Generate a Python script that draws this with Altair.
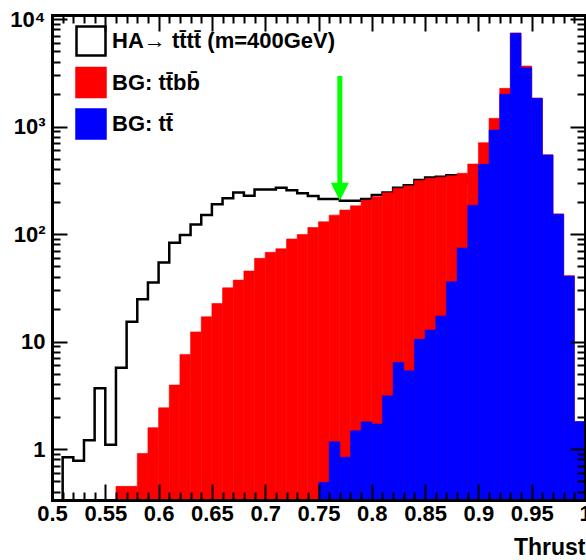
import altair as alt
import pandas as pd

# ---------------- data ----------------
bin_width = 0.01
bin_lo = [0.50, 0.51, 0.52, 0.53, 0.54, 0.55, 0.56, 0.57, 0.58, 0.59,
          0.60, 0.61, 0.62, 0.63, 0.64, 0.65, 0.66, 0.67, 0.68, 0.69,
          0.70, 0.71, 0.72, 0.73, 0.74, 0.75, 0.76, 0.77, 0.78, 0.79,
          0.80, 0.81, 0.82, 0.83, 0.84, 0.85, 0.86, 0.87, 0.88, 0.89,
          0.90, 0.91, 0.92, 0.93, 0.94, 0.95, 0.96, 0.97, 0.98, 0.99]

# signal HA -> tttt (m=400GeV)
signal = [0, 0.84, 0.78, 1.21, 3.67, 1.1, 5.7, 15.3, 24.8, 35.5,
          54.5, 83, 98, 123, 150, 189, 215, 244, 227, 260,
          260, 270, 255, 239, 226, 212, 212, 204, 204, 212,
          231, 244, 270, 285, 318, 335, 342, 352, 340, 300,
          240, 170, 110, 60, 28, 12, 5, 2, 0.9, 0.4]

# background tt
tt = [0, 0, 0, 0, 0, 0, 0, 0, 0, 0,
      0, 0, 0, 0, 0, 0, 0, 0, 0, 0,
      0, 0, 0, 0, 0, 0.49, 1.17, 0.84, 1.48, 1.79,
      1.71, 3.13, 6.4, 5.35, 10.5, 12.8, 17.3, 36, 74, 185,
      445, 928, 1995, 7360, 3524, 1829, 543, 153, 40.6, 1.8]

# background ttbb (stacked on top of tt)
ttbb = [0, 0, 0, 0, 0, 0, 0.45, 0.45, 0.91, 1.58,
        2.42, 3.94, 7.6, 12.3, 17, 22.6, 31.6, 37.3, 45.3, 59.4,
        67.6, 73, 90, 99, 115, 129.5, 148.8, 166.2, 181.5, 205.2,
        220.3, 238.9, 259.6, 275.6, 304.5, 317.2, 320.7, 312, 293, 263,
        262, 264, 270, 60, 131, 11, 3, 1, 0.4, 0]

SIG = "HA\u2192 tt\u0304tt\u0304 (m=400GeV)"
TTBB = "BG: tt\u0304bb\u0304"
TT = "BG: tt\u0304"
series_names = [SIG, TTBB, TT]
fill_colors = ["white", "#ff0000", "#0000ff"]
stroke_colors = ["black", "#ff0000", "#0000ff"]

arrow_x = [0.77]
arrow_top = [2950]
arrow_tip = [204]

x_major = [0.5, 0.55, 0.6, 0.65, 0.7, 0.75, 0.8, 0.85, 0.9, 0.95, 1.0]
x_minor = [v for v in bin_lo[1:] if v not in x_major]
y_major = [1, 10, 100, 1000, 10000]
y_minor = [m * d for d in [0.1, 1, 10, 100, 1000] for m in range(2, 10)]
y_minor = [round(v, 3) for v in y_minor if v > 0.336]

# ---------------- tables ----------------
bins = pd.DataFrame({"lo": bin_lo, "sig": signal, "tt": tt, "ttbb": ttbb})
bins["hi"] = bins["lo"] + bin_width
bins["total"] = bins["tt"] + bins["ttbb"]
red_df = bins[bins["total"] > 0].assign(series=TTBB, val=lambda d: d["total"])
blue_df = bins[bins["tt"] > 0].assign(series=TT, val=lambda d: d["tt"])

line_vals = [v if v > 0 else 0.01 for v in signal]
line_df = pd.DataFrame({"edge": bin_lo + [1.0],
                        "val": line_vals + [line_vals[-1]],
                        "series": SIG})
arrow_df = pd.DataFrame({"x": arrow_x, "top": arrow_top, "tip": arrow_tip})

# ---------------- chart ----------------
W, H = 533, 485
FONT = "Liberation Sans"
xscale = alt.Scale(domain=[0.5, 1.0], nice=False, zero=False)
yscale = alt.Scale(type="log", domain=[0.336, 10900], nice=False)
fill_scale = alt.Scale(domain=series_names, range=fill_colors)
stroke_scale = alt.Scale(domain=series_names, range=stroke_colors)

legend = alt.Legend(title=None, orient="none", legendX=23, legendY=10,
                    symbolType="square", symbolSize=841, symbolStrokeWidth=2.5,
                    labelFont=FONT, labelFontSize=22, labelFontWeight="bold",
                    labelColor="black", rowPadding=1.5, labelOffset=5,
                    padding=0, labelLimit=500, symbolOpacity=1)


def tick_axis(orient, values, size, offset, domain=False):
    return alt.Axis(orient=orient, values=values, tickSize=size, offset=offset,
                    labels=False, domain=domain, domainColor="black",
                    domainWidth=3, domainCap="square", grid=False, ticks=True,
                    tickWidth=2, tickColor="black", title=None, zindex=1)


x_label_axis = alt.Axis(orient="bottom", values=x_major, ticks=False, tickSize=0,
                        domain=False, grid=False,
                        labelExpr="format(datum.value, '~g')",
                        labelFont=FONT, labelFontSize=22, labelFontWeight="bold",
                        labelColor="black", labelPadding=3, labelFlush=False,
                        title="Thrust", titleFont=FONT, titleFontSize=23,
                        titleFontWeight="bold", titleColor="black",
                        titleAnchor="end", titlePadding=12)
y_label_axis = alt.Axis(orient="left", values=y_major, ticks=False, tickSize=0,
                        domain=False, grid=False,
                        labelExpr="datum.value == 10000 ? '10\u2074' : datum.value == 1000 ? '10\u00b3' : datum.value == 100 ? '10\u00b2' : datum.value == 10 ? '10' : '1'",
                        labelFont=FONT, labelFontSize=22, labelFontWeight="bold",
                        labelColor="black", labelPadding=7, title=None)

sig_line = alt.Chart(line_df).mark_line(
    interpolate="step-after", strokeWidth=2.5, clip=True
).encode(
    x=alt.X("edge:Q", scale=xscale, axis=x_label_axis),
    y=alt.Y("val:Q", scale=yscale, axis=y_label_axis),
    stroke=alt.Stroke("series:N", scale=stroke_scale, legend=legend),
)

red_bars = alt.Chart(red_df).mark_rect(strokeWidth=0.6, clip=True).encode(
    x=alt.X("lo:Q", scale=xscale, axis=tick_axis("top", x_major, 16, -H, True)),
    x2="hi:Q",
    y=alt.Y("val:Q", scale=yscale, axis=tick_axis("right", y_major, 15, -W, True)),
    y2=alt.value(H),
    fill=alt.Fill("series:N", scale=fill_scale, legend=legend),
    stroke=alt.Stroke("series:N", scale=stroke_scale, legend=legend),
)

blue_bars = alt.Chart(blue_df).mark_rect(strokeWidth=0.6, clip=True).encode(
    x=alt.X("lo:Q", scale=xscale, axis=tick_axis("top", x_minor, 8, -H)),
    x2="hi:Q",
    y=alt.Y("val:Q", scale=yscale, axis=tick_axis("right", y_minor, 8, -W)),
    y2=alt.value(H),
    fill=alt.Fill("series:N", scale=fill_scale, legend=legend),
    stroke=alt.Stroke("series:N", scale=stroke_scale, legend=legend),
)

arrow_shaft = alt.Chart(arrow_df).mark_rule(
    color="#00ff00", strokeWidth=5, y2Offset=-12
).encode(
    x=alt.X("x:Q", scale=xscale, axis=tick_axis("bottom", x_major, 16, -H, True)),
    y=alt.Y("top:Q", scale=yscale, axis=tick_axis("left", y_major, 15, -W, True)),
    y2="tip:Q",
)

arrow_head = alt.Chart(arrow_df).mark_point(
    shape="M-1,-1L1,-1L0,1Z", size=324, filled=True, fill="#00ff00",
    strokeWidth=0, opacity=1, yOffset=-9
).encode(
    x=alt.X("x:Q", scale=xscale, axis=tick_axis("bottom", x_minor, 8, -H)),
    y=alt.Y("tip:Q", scale=yscale, axis=tick_axis("left", y_minor, 8, -W)),
)

chart = alt.layer(
    sig_line, red_bars, blue_bars, arrow_shaft, arrow_head
).resolve_axis(
    x="independent", y="independent"
).properties(
    width=W, height=H,
    padding={"left": 52, "top": 15, "right": 1, "bottom": 60},
    autosize=alt.AutoSizeParams(type="none"),
    background="white",
).configure_view(stroke=None)

chart.save("out.html", embed_options={"renderer": "svg", "actions": False})
